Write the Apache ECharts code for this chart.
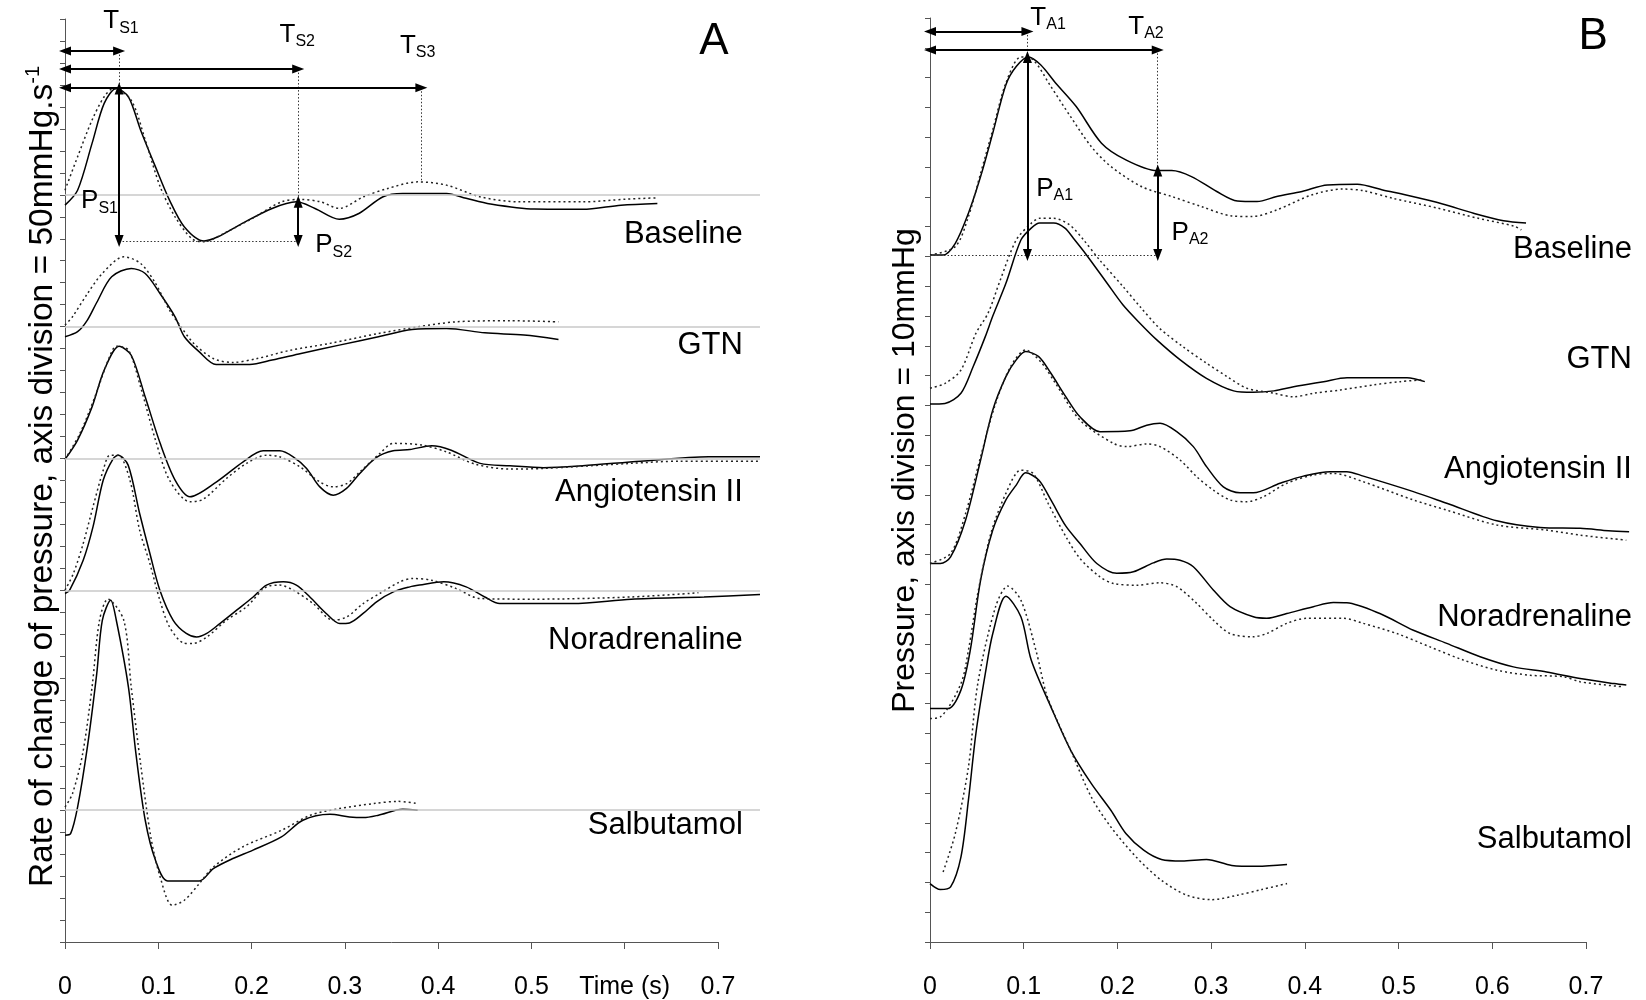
<!DOCTYPE html>
<html><head><meta charset="utf-8">
<script src="https://cdn.jsdelivr.net/npm/echarts/dist/echarts.min.js"></script>
<style>html,body{margin:0;padding:0;background:#fff}#c{width:1646px;height:1000px}</style>
</head><body><div id="c"></div>
<script>
// ---------- tick labels / categories ----------
const xTickLabelsA = ['0','0.1','0.2','0.3','0.4','0.5','Time (s)','0.7'];
const xTickLabelsB = ['0','0.1','0.2','0.3','0.4','0.5','0.6','0.7'];
const conditions = ['Baseline','GTN','Angiotensin II','Noradrenaline','Salbutamol'];
// zero levels of the dP/dt traces (in axis divisions)
const zeroLevelsA = [34, 28, 22, 16, 6];

// ---------- Panel A: rate of change of pressure (axis divisions, 1 div = 50 mmHg/s) ----------
const aBaselineSolid = [[0,33.53],[0.0135,34.21],[0.029,36.34],[0.042,38.16],[0.055,38.84],[0.068,38.46],[0.081,36.95],[0.097,35.27],[0.112,33.76],[0.128,32.54],[0.149,31.9],[0.164,32.09],[0.19,32.7],[0.222,33.38],[0.248,33.68],[0.268,33.38],[0.294,32.89],[0.315,33.15],[0.341,33.91],[0.362,34.06],[0.409,34.06],[0.43,33.84],[0.456,33.58],[0.503,33.35],[0.555,33.34],[0.596,33.53],[0.635,33.61]];
const aBaselineDotted = [[0,34.21],[0.0135,35.73],[0.029,37.4],[0.042,38.46],[0.052,38.84],[0.071,38.3],[0.086,36.5],[0.102,34.37],[0.118,33.0],[0.136,32.0],[0.149,31.86],[0.17,32.24],[0.201,32.93],[0.232,33.68],[0.253,33.79],[0.274,33.68],[0.294,33.38],[0.32,33.91],[0.346,34.29],[0.378,34.59],[0.409,34.44],[0.445,33.91],[0.487,33.68],[0.555,33.68],[0.601,33.8],[0.633,33.86]];
const aGtnSolid = [[0,27.54],[0.0135,27.77],[0.024,28.3],[0.034,29.1],[0.05,30.27],[0.071,30.65],[0.086,30.42],[0.102,29.5],[0.118,28.45],[0.128,27.54],[0.144,26.85],[0.162,26.28],[0.198,26.28],[0.222,26.48],[0.253,26.78],[0.294,27.16],[0.336,27.54],[0.372,27.87],[0.409,27.92],[0.45,27.72],[0.492,27.62],[0.529,27.42]];
const aGtnDotted = [[0,28.07],[0.008,28.45],[0.024,29.5],[0.04,30.42],[0.063,31.18],[0.081,30.88],[0.097,29.97],[0.112,28.75],[0.123,28.07],[0.138,27.24],[0.159,26.55],[0.18,26.37],[0.206,26.55],[0.242,26.93],[0.284,27.24],[0.336,27.69],[0.378,27.99],[0.419,28.22],[0.477,28.27],[0.529,28.22]];
const aAngioSolid = [[0,21.96],[0.0135,22.84],[0.029,24.35],[0.042,26.02],[0.058,27.11],[0.071,26.7],[0.086,24.8],[0.102,22.69],[0.118,21.02],[0.134,20.26],[0.1625,20.94],[0.191,21.85],[0.2124,22.35],[0.2303,22.35],[0.2446,22.08],[0.259,21.55],[0.2732,20.71],[0.2875,20.33],[0.3018,20.64],[0.316,21.32],[0.334,22.05],[0.3518,22.35],[0.3697,22.41],[0.393,22.58],[0.414,22.38],[0.445,21.78],[0.477,21.67],[0.513,21.58],[0.555,21.67],[0.617,21.88],[0.69,22.08],[0.745,22.08]];
const aAngioDotted = [[0,21.96],[0.016,23.14],[0.032,24.8],[0.047,26.55],[0.055,27.11],[0.068,26.93],[0.081,25.26],[0.097,22.84],[0.112,21.02],[0.134,20.03],[0.148,20.14],[0.173,21.09],[0.1946,21.78],[0.216,22.15],[0.23,22.08],[0.252,21.62],[0.273,20.94],[0.2875,20.71],[0.302,20.86],[0.316,21.39],[0.3375,22.23],[0.352,22.69],[0.383,22.61],[0.409,22.3],[0.44,21.74],[0.477,21.52],[0.513,21.55],[0.607,21.78],[0.659,21.88],[0.745,21.88]];
const aNorSolid = [[0,15.86],[0.005,16.01],[0.0195,17.37],[0.03,18.89],[0.041,21.02],[0.0517,22.0],[0.057,22.15],[0.0677,21.7],[0.08,19.5],[0.091,17.68],[0.1017,16.01],[0.116,14.64],[0.13,14.04],[0.141,13.88],[0.152,14.04],[0.166,14.49],[0.184,15.1],[0.2017,15.7],[0.216,16.24],[0.234,16.39],[0.248,16.24],[0.2625,15.7],[0.28,14.95],[0.2946,14.49],[0.305,14.52],[0.3196,14.95],[0.334,15.48],[0.352,15.93],[0.3697,16.16],[0.38,16.24],[0.406,16.39],[0.43,16.16],[0.45,15.7],[0.466,15.4],[0.544,15.4],[0.607,15.6],[0.685,15.7],[0.745,15.81]];
const aNorDotted = [[0,16.01],[0.009,16.77],[0.0195,18.13],[0.03,19.8],[0.041,21.47],[0.048,22.15],[0.057,22.15],[0.0696,21.02],[0.08,18.74],[0.091,17.22],[0.1017,15.55],[0.112,14.34],[0.127,13.61],[0.137,13.58],[0.152,13.88],[0.173,14.64],[0.1946,15.25],[0.216,16.16],[0.23,16.24],[0.2446,16.01],[0.266,15.4],[0.2875,14.64],[0.302,14.79],[0.3196,15.4],[0.3375,15.86],[0.359,16.39],[0.373,16.54],[0.393,16.46],[0.419,16.09],[0.445,15.63],[0.503,15.6],[0.607,15.7],[0.679,15.89]];
const aSalbSolid = [[0,4.86],[0.006,4.93],[0.0135,6.14],[0.024,8.88],[0.034,12.2],[0.04,14.64],[0.049,15.55],[0.055,14.64],[0.068,11.6],[0.076,8.58],[0.086,5.54],[0.097,3.72],[0.11,2.78],[0.144,2.78],[0.159,3.34],[0.18,3.8],[0.201,4.17],[0.232,4.78],[0.255,5.54],[0.284,5.81],[0.305,5.69],[0.32,5.66],[0.336,5.77],[0.362,6.04],[0.378,5.99]];
const aSalbDotted = [[0,6.14],[0.008,6.75],[0.019,8.58],[0.029,11.6],[0.037,14.64],[0.046,15.6],[0.063,14.64],[0.071,11.6],[0.081,8.12],[0.092,4.78],[0.102,2.96],[0.115,1.67],[0.128,1.9],[0.144,2.66],[0.159,3.41],[0.19,4.32],[0.232,5.08],[0.263,5.77],[0.294,6.07],[0.331,6.3],[0.357,6.4],[0.378,6.3]];

// ---------- Panel B: pressure (axis divisions, 1 div = 10 mmHg) ----------
const bBaselineSolid = [[0,23.05],[0.014,23.05],[0.027,23.44],[0.041,24.45],[0.054,25.68],[0.067,27.14],[0.081,28.76],[0.092,29.37],[0.105,29.69],[0.118,29.43],[0.134,28.82],[0.156,28.03],[0.183,26.8],[0.209,26.24],[0.242,25.88],[0.258,25.88],[0.279,25.68],[0.306,25.18],[0.328,24.86],[0.349,24.84],[0.37,25.01],[0.397,25.18],[0.424,25.4],[0.456,25.42],[0.483,25.23],[0.515,25.01],[0.547,24.76],[0.58,24.45],[0.612,24.2],[0.636,24.12]];
const bBaselineDotted = [[0,23.05],[0.027,23.33],[0.041,24.34],[0.054,25.79],[0.067,27.25],[0.081,28.82],[0.097,29.69],[0.11,29.6],[0.129,28.7],[0.15,27.69],[0.172,26.69],[0.193,26.02],[0.226,25.34],[0.258,25.01],[0.29,24.67],[0.322,24.36],[0.344,24.34],[0.37,24.56],[0.408,25.07],[0.44,25.26],[0.462,25.21],[0.494,24.95],[0.542,24.62],[0.585,24.28],[0.623,24.02],[0.631,23.89]];
const bGtnSolid = [[0,18.05],[0.016,18.07],[0.033,18.41],[0.046,19.3],[0.059,20.31],[0.067,21.0],[0.081,22.1],[0.097,23.55],[0.108,23.95],[0.117,24.12],[0.132,24.12],[0.144,23.95],[0.153,23.61],[0.167,23.05],[0.189,22.1],[0.206,21.37],[0.224,20.76],[0.242,20.2],[0.267,19.53],[0.295,18.91],[0.324,18.49],[0.345,18.44],[0.367,18.49],[0.388,18.63],[0.42,18.8],[0.445,18.93],[0.509,18.93],[0.528,18.8]];
const bGtnDotted = [[0,18.58],[0.016,18.74],[0.033,19.19],[0.049,20.42],[0.062,21.1],[0.075,22.21],[0.092,23.55],[0.108,24.11],[0.117,24.28],[0.132,24.28],[0.149,24.06],[0.164,23.55],[0.181,22.88],[0.206,21.99],[0.224,21.32],[0.245,20.59],[0.27,19.97],[0.295,19.42],[0.317,18.97],[0.338,18.58],[0.367,18.41],[0.388,18.29],[0.409,18.41],[0.438,18.52],[0.473,18.69],[0.502,18.8],[0.526,18.86]];
const bAngioSolid = [[0,12.7],[0.011,12.7],[0.022,12.92],[0.038,14.16],[0.054,16.17],[0.067,17.85],[0.081,18.97],[0.092,19.53],[0.102,19.81],[0.116,19.64],[0.129,19.08],[0.145,18.29],[0.16,17.62],[0.1814,17.12],[0.2134,17.15],[0.2313,17.34],[0.2455,17.4],[0.2633,17.12],[0.281,16.62],[0.2953,15.94],[0.313,15.27],[0.3308,15.07],[0.345,15.07],[0.3735,15.39],[0.3984,15.63],[0.4269,15.78],[0.4447,15.78],[0.4624,15.63],[0.5158,15.11],[0.5514,14.72],[0.6048,14.13],[0.651,13.91],[0.6937,13.88],[0.724,13.8],[0.746,13.76]];
const bAngioDotted = [[0,12.7],[0.022,13.04],[0.038,14.38],[0.054,16.28],[0.07,18.07],[0.086,19.3],[0.102,19.86],[0.118,19.47],[0.134,18.74],[0.16,17.51],[0.1956,16.73],[0.2099,16.62],[0.2313,16.71],[0.2455,16.62],[0.2668,16.17],[0.2846,15.61],[0.3023,15.16],[0.3202,14.83],[0.338,14.77],[0.3557,14.94],[0.3807,15.39],[0.409,15.67],[0.4304,15.72],[0.4624,15.44],[0.5158,14.83],[0.5514,14.49],[0.6048,13.99],[0.658,13.82],[0.6937,13.65],[0.743,13.48]];
const bNorSolid = [[0,7.83],[0.019,7.83],[0.033,8.45],[0.043,9.79],[0.054,12.14],[0.067,13.82],[0.081,14.83],[0.092,15.33],[0.102,15.74],[0.116,15.5],[0.129,14.83],[0.145,13.95],[0.16,13.37],[0.178,12.7],[0.1993,12.37],[0.217,12.42],[0.2383,12.72],[0.2526,12.85],[0.2668,12.81],[0.281,12.59],[0.3023,11.81],[0.3202,11.25],[0.345,10.91],[0.3593,10.86],[0.3807,11.02],[0.409,11.25],[0.4304,11.39],[0.4447,11.38],[0.48,11.02],[0.5158,10.46],[0.5514,10.02],[0.587,9.57],[0.6225,9.23],[0.658,9.06],[0.6937,8.84],[0.73,8.67],[0.743,8.62]];
const bNorDotted = [[0,7.5],[0.011,7.55],[0.033,8.67],[0.041,9.79],[0.051,11.7],[0.065,13.71],[0.081,15.05],[0.097,15.83],[0.11,15.72],[0.126,14.72],[0.145,13.6],[0.16,12.87],[0.1814,12.25],[0.1956,12.03],[0.2206,11.97],[0.2455,12.05],[0.2633,11.92],[0.2846,11.36],[0.3023,10.8],[0.3202,10.35],[0.345,10.24],[0.3593,10.35],[0.3807,10.69],[0.402,10.86],[0.441,10.86],[0.4624,10.69],[0.498,10.35],[0.5336,9.9],[0.569,9.46],[0.6048,9.12],[0.6403,8.95],[0.676,8.9],[0.6937,8.73],[0.74,8.56]];
const bSalbSolid = [[0,1.96],[0.011,1.76],[0.022,1.85],[0.033,2.85],[0.041,4.76],[0.049,7.0],[0.059,9.0],[0.067,10.35],[0.081,11.6],[0.097,10.91],[0.108,9.46],[0.129,7.89],[0.15,6.44],[0.172,5.32],[0.193,4.42],[0.209,3.64],[0.228,3.08],[0.247,2.77],[0.269,2.72],[0.295,2.77],[0.322,2.57],[0.349,2.54],[0.381,2.6]];
const bSalbDotted = [[0.014,2.35],[0.027,3.64],[0.041,5.87],[0.051,8.67],[0.07,11.25],[0.083,11.94],[0.097,11.47],[0.113,9.79],[0.124,8.34],[0.134,7.55],[0.15,6.44],[0.172,4.87],[0.193,3.86],[0.22,2.85],[0.247,2.07],[0.274,1.57],[0.301,1.42],[0.328,1.57],[0.354,1.76],[0.381,1.96]];

// ---------- annotation geometry (data coordinates) ----------
const arrowsA = [[0,40.54,0.058,40.54],[0,39.72,0.25,39.72],[0,38.87,0.382,38.87],[0.058,38.84,0.058,31.9],[0.25,33.68,0.25,31.9]];
const guidesA = [[0.058,40.54,0.058,38.84],[0.25,39.72,0.25,33.68],[0.382,38.87,0.382,34.59],[0.058,31.9,0.25,31.9]];
const arrowsB = [[0,30.55,0.104,30.55],[0,29.93,0.243,29.93],[0.104,29.69,0.104,23.05],[0.243,25.88,0.243,23.05]];
const guidesB = [[0.104,30.55,0.104,29.69],[0.243,29.93,0.243,25.88],[0,23.05,0.243,23.05]];

const FONT = '"Liberation Sans", Arial, sans-serif';
const chart = echarts.init(document.getElementById('c'), null, {renderer:'canvas'});

// grids 0/1: visible axes (0 .. 0.7); grids 2/3: same plot areas, data space extended to 0.75
const AX = {left:65, top:19, width:653, height:923};
const BX = {left:930, top:18, width:656, height:924};
const EXT = 0.75 / 0.7;

function curve(data, g, dotted){
  return {type:'line', xAxisIndex:g, yAxisIndex:g, data:data, showSymbol:false, symbol:'none',
    smooth:0.3, clip:false, silent:true, z:3,
    lineStyle: dotted ? {color:'#222', width:1.5, type:[2,3]} : {color:'#000', width:1.5, type:'solid'}};
}
function segs(list){ return list.map(s => [{coord:[s[0],s[1]]},{coord:[s[2],s[3]]}]); }
function markSeries(g, list, style, arrows, z){
  return {type:'line', xAxisIndex:g, yAxisIndex:g, data:[], silent:true, z:z, clip:false,
    markLine:{silent:true, animation:false, symbol: arrows ? ['triangle','triangle'] : ['none','none'],
      symbolSize: arrows ? [9,12] : 0, label:{show:false}, lineStyle:style, emphasis:{disabled:true},
      data: segs(list)}};
}
function xAxisVisible(g, labels){
  return {type:'value', gridIndex:g, min:0, max:0.7, interval:0.1,
    axisLine:{show:true, onZero:false, lineStyle:{color:'#555', width:1}},
    axisTick:{show:true, length:7, lineStyle:{color:'#555'}},
    splitLine:{show:false},
    axisLabel:{fontSize:25, fontFamily:FONT, color:'#000', margin:33,
      formatter: v => labels[Math.round(v*10)]}};
}
function yAxisVisible(g, max, name, gap, size, pad){
  return {type:'value', gridIndex:g, min:0, max:max, interval:1,
    axisLine:{show:true, onZero:false, lineStyle:{color:'#555', width:1}},
    axisTick:{show:true, length:5, lineStyle:{color:'#555'}},
    axisLabel:{show:false}, splitLine:{show:false},
    name:name, nameLocation:'middle', nameGap:gap, nameRotate:90,
    nameTextStyle:{fontSize:size, fontFamily:FONT, color:'#000', lineHeight:40, padding:[0,0,0,pad],
      rich:{sup:{fontSize:20, fontFamily:FONT, color:'#000', verticalAlign:'top', lineHeight:22}}}};
}
function hiddenAxis(g, max){
  return {type:'value', gridIndex:g, min:0, max:max, show:false,
    axisLine:{show:false, onZero:false, lineStyle:{width:0, opacity:0}},
    axisTick:{show:false}, axisLabel:{show:false}, splitLine:{show:false}};
}

const baselineSegs = zeroLevelsA.map(v => [0, v, 0.745, v]);

const option = {
  animation:false,
  backgroundColor:'#fff',
  grid:[
    Object.assign({outerBoundsMode:'none'}, AX),
    Object.assign({outerBoundsMode:'none'}, BX),
    {left:AX.left, top:AX.top, width:AX.width*EXT, height:AX.height, outerBoundsMode:'none'},
    {left:BX.left, top:BX.top, width:BX.width*EXT, height:BX.height, outerBoundsMode:'none'}
  ],
  xAxis:[xAxisVisible(0, xTickLabelsA), xAxisVisible(1, xTickLabelsB), hiddenAxis(2, 0.75), hiddenAxis(3, 0.75)],
  yAxis:[yAxisVisible(0, 42, 'Rate of change of pressure, axis division = 50mmHg.s{sup|-1}', 2, 33.5, 8),
         yAxisVisible(1, 31, 'Pressure, axis division = 10mmHg', 5, 32, 19),
         hiddenAxis(2, 42), hiddenAxis(3, 31)],
  series:[
    {type:'line', xAxisIndex:0, yAxisIndex:0, data:[], silent:true},
    {type:'line', xAxisIndex:1, yAxisIndex:1, data:[], silent:true},
    markSeries(2, baselineSegs, {color:'#c8c8c8', width:1.5, type:'solid'}, false, 1),
    curve(aBaselineSolid,2,false), curve(aBaselineDotted,2,true),
    curve(aGtnSolid,2,false), curve(aGtnDotted,2,true),
    curve(aAngioSolid,2,false), curve(aAngioDotted,2,true),
    curve(aNorSolid,2,false), curve(aNorDotted,2,true),
    curve(aSalbSolid,2,false), curve(aSalbDotted,2,true),
    curve(bBaselineSolid,3,false), curve(bBaselineDotted,3,true),
    curve(bGtnSolid,3,false), curve(bGtnDotted,3,true),
    curve(bAngioSolid,3,false), curve(bAngioDotted,3,true),
    curve(bNorSolid,3,false), curve(bNorDotted,3,true),
    curve(bSalbSolid,3,false), curve(bSalbDotted,3,true),
    markSeries(2, guidesA, {color:'#333', width:1, type:[1.5,2]}, false, 4),
    markSeries(3, guidesB, {color:'#333', width:1, type:[1.5,2]}, false, 4),
    markSeries(2, arrowsA, {color:'#000', width:2, type:'solid'}, true, 5),
    markSeries(3, arrowsB, {color:'#000', width:2, type:'solid'}, true, 5)
  ]
};
chart.setOption(option);

// ---------- text annotations anchored in data coordinates ----------
const subRich = {t:{fontSize:26, fontFamily:FONT, fill:'#000', lineHeight:30},
                 s:{fontSize:16, fontFamily:FONT, fill:'#000', lineHeight:18, verticalAlign:'bottom'}};
const textsA = [
  {text:'{t|T}{s|S1}', at:[0.06,41.9]},
  {text:'{t|T}{s|S2}', at:[0.249,41.3]},
  {text:'{t|T}{s|S3}', at:[0.378,40.77]},
  {text:'{t|P}{s|S1}', at:[0.037,33.71]},
  {text:'{t|P}{s|S2}', at:[0.288,31.71]}
];
const textsB = [
  {text:'{t|T}{s|A1}', at:[0.126,31.0]},
  {text:'{t|T}{s|A2}', at:[0.2305,30.7]},
  {text:'{t|P}{s|A1}', at:[0.133,25.27]},
  {text:'{t|P}{s|A2}', at:[0.2775,23.79]}
];
const condLabelYA = [32.2, 27.16, 20.47, 13.73, 5.31];
const condLabelYB = [23.22, 19.53, 15.84, 10.9, 3.45];

const graphics = [];
function addText(g, item){
  const p = chart.convertToPixel({gridIndex:g}, item.at);
  graphics.push({type:'text', x:p[0], y:p[1], silent:true, z:10,
    style:{text:item.text, rich:subRich, align:'center', verticalAlign:'middle', fill:'#000'}});
}
textsA.forEach(t => addText(2, t));
textsB.forEach(t => addText(3, t));
conditions.forEach((c, i) => {
  [[2, 0.7266, condLabelYA[i]], [3, 0.749, condLabelYB[i]]].forEach(([g, x, y]) => {
    const p = chart.convertToPixel({gridIndex:g}, [x, y]);
    graphics.push({type:'text', x:p[0], y:p[1], silent:true, z:10,
      style:{text:c, font:'31px ' + FONT, fill:'#000', align:'right', verticalAlign:'middle'}});
  });
});
[['A', 2, [0.6955, 40.95]], ['B', 3, [0.7076, 30.37]]].forEach(([t, g, at]) => {
  const p = chart.convertToPixel({gridIndex:g}, at);
  graphics.push({type:'text', x:p[0], y:p[1], silent:true, z:10,
    style:{text:t, font:'44px ' + FONT, fill:'#000', align:'center', verticalAlign:'middle'}});
});
chart.setOption({graphic:graphics});
</script></body></html>
